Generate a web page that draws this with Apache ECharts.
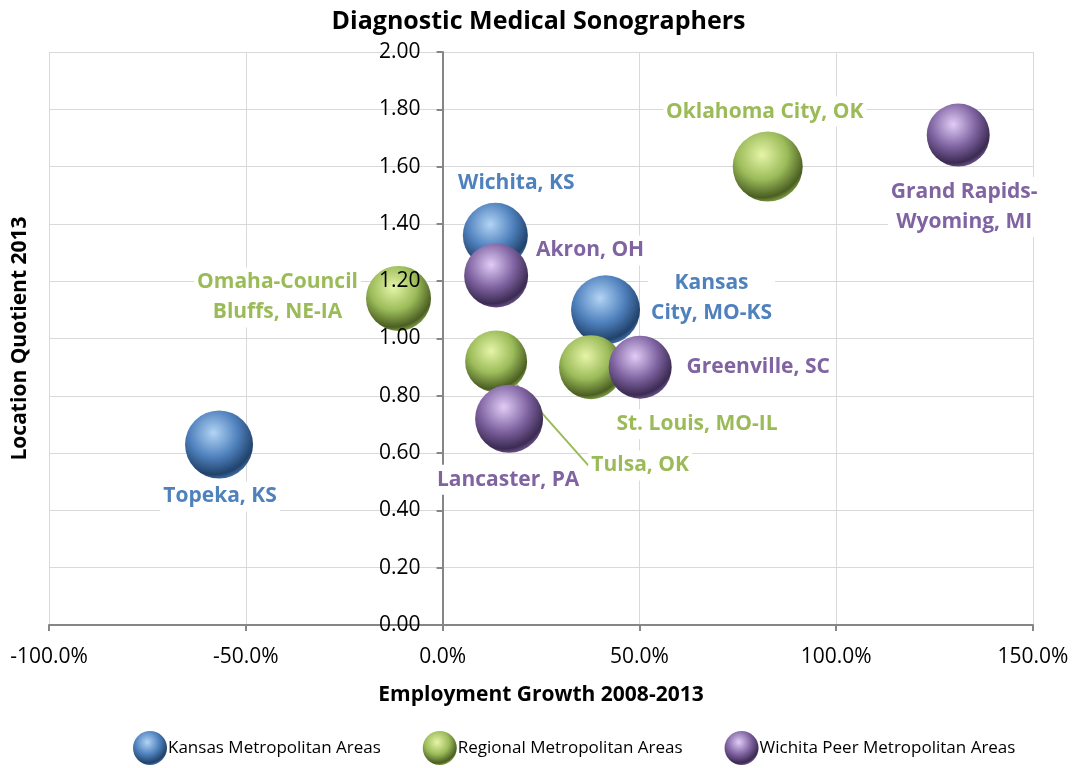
<!DOCTYPE html>
<html>
<head>
<meta charset="utf-8">
<script src="https://cdn.jsdelivr.net/npm/echarts@6/dist/echarts.min.js"></script>
<style>
  html, body { margin: 0; padding: 0; background: #fff; }
  #chart { width: 1077px; height: 768px; }
</style>
</head>
<body>
<div id="chart"></div>
<script>
// --- data ---
var groups = ['Kansas Metropolitan Areas', 'Regional Metropolitan Areas', 'Wichita Peer Metropolitan Areas'];

var kansasNames = ['Topeka, KS', 'Wichita, KS', 'Kansas\nCity, MO-KS'];
var kansasGrowth = [-56.8, 13.4, 41.4];
var kansasLQ = [0.63, 1.36, 1.10];
var kansasSize = [68, 65, 69];

var regionalNames = ['Omaha-Council\nBluffs, NE-IA', 'Tulsa, OK', 'St. Louis, MO-IL', 'Oklahoma City, OK'];
var regionalGrowth = [-11.2, 13.6, 37.7, 82.6];
var regionalLQ = [1.14, 0.92, 0.90, 1.60];
var regionalSize = [65, 62, 64, 70];

var peerNames = ['Akron, OH', 'Lancaster, PA', 'Greenville, SC', 'Grand Rapids-\nWyoming, MI'];
var peerGrowth = [13.6, 16.9, 50.2, 131.0];
var peerLQ = [1.22, 0.72, 0.90, 1.71];
var peerSize = [64, 68, 63, 63];

var xTicks = [-100, -50, 0, 50, 100, 150];
var yTicks = [0, 0.2, 0.4, 0.6, 0.8, 1.0, 1.2, 1.4, 1.6, 1.8, 2.0];

// label placement relative to bubble centre (px)
var kansasOffsets = [[1, 52], [21, -52], [106, -12]];
var regionalOffsets = [[-121, -1], [144, 104], [106, 57], [-3, -55]];
var peerOffsets = [[94, -25], [-1, 61], [118, 0], [6, 72]];

var font = 'Open Sans';
var blue = '#4f81bd', green = '#9bbb59', purple = '#8064a2';

var gridLeft = 49, gridRight = 44;
var plotW = 1077 - gridLeft - gridRight;
// the value axis crosses the x axis at 0%
var yAxisShift = plotW * (0 - xTicks[0]) / (xTicks[xTicks.length - 1] - xTicks[0]);

function sphere(light, base, dark) {
  return new echarts.graphic.RadialGradient(0.42, 0.33, 0.72, [
    { offset: 0, color: light },
    { offset: 0.5, color: base },
    { offset: 0.85, color: dark },
    { offset: 1, color: base }
  ]);
}

function build(names, xs, ys, sizes) {
  return names.map(function (n, i) {
    return { name: n, value: [xs[i], ys[i], sizes[i]] };
  });
}

var labelBase = {
  show: true,
  position: 'inside',
  formatter: '{b}',
  fontFamily: font,
  fontSize: 21,
  fontWeight: 'bold',
  lineHeight: 30,
  align: 'center',
  backgroundColor: '#fff',
  padding: [0, 3]
};

function series(name, data, offsets, fill, textColor, z) {
  return {
    name: name,
    type: 'scatter',
    z: z,
    data: data,
    symbolSize: function (v) { return v[2]; },
    itemStyle: { color: fill, opacity: 1 },
    label: Object.assign({}, labelBase, { color: textColor }),
    labelLayout: function (p) {
      var o = offsets[p.dataIndex];
      return { dx: o[0], dy: o[1] };
    },
    emphasis: { disabled: true }
  };
}

var regionalData = build(regionalNames, regionalGrowth, regionalLQ, regionalSize);
regionalData[1].labelLine = { show: true, lineStyle: { color: green, width: 2 } };

var yMin = yTicks[0], yMax = yTicks[yTicks.length - 1];

var chart = echarts.init(document.getElementById('chart'), null, { renderer: 'canvas' });
chart.setOption({
  animation: false,
  textStyle: { fontFamily: font },
  title: {
    text: 'Diagnostic Medical Sonographers',
    left: 'center',
    top: 4,
    textStyle: { fontFamily: font, fontSize: 25, fontWeight: 'bold', color: '#000' }
  },
  legend: {
    bottom: -2,
    left: 128,
    icon: 'circle',
    itemWidth: 34,
    itemHeight: 34,
    itemGap: 42,
    data: groups,
    textStyle: { fontFamily: font, fontSize: 17, color: '#000', padding: [0, 0, 0, -4] }
  },
  grid: { left: gridLeft, right: gridRight, top: 52, bottom: 143, containLabel: false, outerBoundsMode: 'none' },
  xAxis: {
    type: 'value',
    min: xTicks[0],
    max: xTicks[xTicks.length - 1],
    interval: 50,
    name: 'Employment Growth 2008-2013',
    nameLocation: 'middle',
    nameGap: 60,
    nameTextStyle: { fontFamily: font, fontSize: 21, fontWeight: 'bold', color: '#000' },
    axisLine: { onZero: true, lineStyle: { color: '#868686', width: 2 } },
    axisTick: { show: true, length: 6, lineStyle: { color: '#868686', width: 2 } },
    axisLabel: {
      margin: 22,
      fontFamily: font,
      fontSize: 21,
      color: '#000',
      formatter: function (v) { return v.toFixed(1) + '%'; }
    },
    splitLine: { show: true, lineStyle: { color: '#d9d9d9', width: 1 } }
  },
  yAxis: [{
    type: 'value',
    min: yMin,
    max: yMax,
    interval: 0.2,
    z: 3,
    offset: -yAxisShift,
    name: 'Location Quotient 2013',
    nameLocation: 'middle',
    nameGap: 412,
    nameRotate: 90,
    nameTextStyle: { fontFamily: font, fontSize: 21, fontWeight: 'bold', color: '#000' },
    axisLine: { show: true, onZero: false, lineStyle: { color: '#868686', width: 2 } },
    axisTick: { show: true, length: 6, lineStyle: { color: '#868686', width: 2 } },
    axisLabel: {
      margin: 22,
      fontFamily: font,
      fontSize: 21,
      color: '#000',
      formatter: function (v) { return v.toFixed(2); }
    },
    splitLine: { show: false }
  }, {
    // horizontal gridlines kept beneath the bubbles
    type: 'value',
    min: yMin,
    max: yMax,
    interval: 0.2,
    position: 'left',
    z: 0,
    axisLine: { show: false },
    axisTick: { show: false },
    axisLabel: { show: false },
    splitLine: { show: true, lineStyle: { color: '#d9d9d9', width: 1 } }
  }],
  series: [
    series(groups[0], build(kansasNames, kansasGrowth, kansasLQ, kansasSize), kansasOffsets,
      sphere('#b3d4f5', '#4f81bd', '#21426b'), blue, 2),
    series(groups[1], regionalData, regionalOffsets,
      sphere('#e6f5a8', '#9bbb59', '#4a5e22'), green, 2),
    series(groups[2], build(peerNames, peerGrowth, peerLQ, peerSize), peerOffsets,
      sphere('#e1cdf7', '#8064a2', '#3b2b52'), purple, 4)
  ]
});
</script>
</body>
</html>
